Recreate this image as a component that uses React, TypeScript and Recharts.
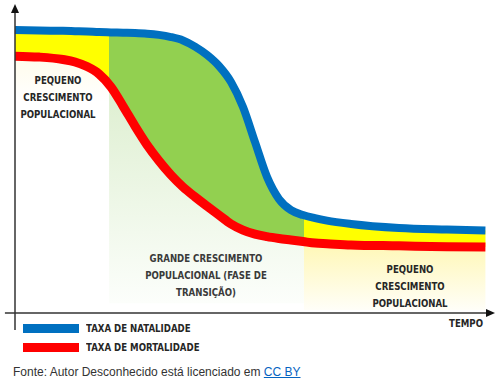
import { ComposedChart, Area, Line, XAxis, YAxis, ReferenceArea, ReferenceLine, Legend } from "recharts";

// tempo (0–100) e taxas (0–100)
const TEMPO = [0, 5, 10, 12.5, 15, 17.5, 20, 22.5, 25, 27.5, 30, 32.5, 35, 37.5, 40, 42.5, 45, 47.5, 50, 52.5, 55, 57.5, 60, 62.5, 65, 70, 80, 90, 98];
const NATALIDADE = [91.9, 91.7, 91.6, 91.5, 91.4, 91.2, 91.1, 91.0, 90.9, 90.7, 90.3, 89.6, 88.5, 86.5, 83.8, 80.2, 75.0, 66.9, 55.5, 44.2, 37.0, 33.4, 31.8, 30.8, 30.0, 28.9, 27.6, 27.1, 26.8];
const MORTALIDADE = [83.4, 83.1, 82.3, 81.5, 80.0, 77.6, 73.4, 67.2, 60.7, 54.6, 49.4, 44.8, 40.9, 37.7, 34.7, 31.8, 28.9, 26.9, 25.6, 24.8, 24.2, 23.7, 23.2, 22.7, 22.5, 22.1, 21.8, 21.5, 21.4];

// limites das fases (tempo)
const FASES = [0, 19.6, 60.2, 98];

const BLUE = "#0070C0";
const RED = "#FF0000";
const YELLOW = "#FFFF00";
const GREEN = "#92D050";
const NARROW = "'DejaVu Sans Condensed', 'Liberation Sans Narrow', sans-serif";
const SQUEEZE = 0.87;

const data = TEMPO.map((t, i) => ({
  t,
  natalidade: NATALIDADE[i],
  mortalidade: MORTALIDADE[i],
  faixa: [MORTALIDADE[i], NATALIDADE[i]],
  ceu: [NATALIDADE[i], 100],
}));

const ANOTACOES = [
  { x: 58, y: 84, lines: ["PEQUENO", "CRESCIMENTO", "POPULACIONAL"], fill: "#262626" },
  { x: 206, y: 262, lines: ["GRANDE CRESCIMENTO", "POPULACIONAL (FASE DE", "TRANSIÇÃO)"], fill: "#3a3a3a" },
  { x: 410, y: 273, lines: ["PEQUENO", "CRESCIMENTO", "POPULACIONAL"], fill: "#262626" },
  { x: 466, y: 327, lines: ["TEMPO"], fill: "#262626" },
];

const ORDEM = ["natalidade", "mortalidade"];

const Arrow = (props: any) => {
  const { x1, y1, x2, y2 } = props;
  const a = Math.atan2(y2 - y1, x2 - x1);
  const len = 9;
  const w = 4;
  const bx = x2 - len * Math.cos(a);
  const by = y2 - len * Math.sin(a);
  const px = -Math.sin(a) * w;
  const py = Math.cos(a) * w;
  return (
    <g>
      <line x1={x1} y1={y1} x2={bx} y2={by} stroke="#333" strokeWidth={1.5} />
      <polygon points={`${x2},${y2} ${bx + px},${by + py} ${bx - px},${by - py}`} fill="#111" />
    </g>
  );
};

const LegendContent = ({ payload }: any) => (
  <div style={{ display: "flex", flexDirection: "column", gap: 10 }}>
    {(payload || [])
      .filter((p: any) => ORDEM.includes(p.dataKey))
      .sort((a: any, b: any) => ORDEM.indexOf(a.dataKey) - ORDEM.indexOf(b.dataKey))
      .map((p: any) => (
        <div key={p.value} style={{ display: "flex", alignItems: "center", height: 9, whiteSpace: "nowrap" }}>
          <span style={{ display: "inline-block", width: 56, height: 9, background: p.color, marginRight: 7 }} />
          <span
            style={{
              display: "inline-block",
              fontFamily: NARROW,
              fontWeight: 700,
              fontSize: 11,
              color: "#262626",
              lineHeight: "9px",
              transform: `scaleX(${SQUEEZE})`,
              transformOrigin: "left center",
            }}
          >
            {p.value}
          </span>
        </div>
      ))}
  </div>
);

export default function App() {
  const last = TEMPO[TEMPO.length - 1];
  return (
    <div style={{ position: "absolute", left: 0, top: 0, width: 504, height: 383, background: "#fff" }}>
      <ComposedChart width={504} height={383} data={data} margin={{ top: 5, right: 9, left: 15, bottom: 70 }}>
        <defs>
          <linearGradient id="faixaGrad" x1="0" y1="0" x2="1" y2="0">
            <stop offset={0} stopColor={YELLOW} />
            <stop offset={FASES[1] / last} stopColor={YELLOW} />
            <stop offset={FASES[1] / last} stopColor={GREEN} />
            <stop offset={FASES[2] / last} stopColor={GREEN} />
            <stop offset={FASES[2] / last} stopColor={YELLOW} />
            <stop offset={1} stopColor={YELLOW} />
          </linearGradient>
          <linearGradient id="fundo1" x1="0" y1="0" x2="0" y2="1">
            <stop offset="0%" stopColor="#fffbe4" />
            <stop offset="40%" stopColor="#ffffff" />
          </linearGradient>
          <linearGradient id="fundo2" x1="0" y1="0" x2="0" y2="1">
            <stop offset="0%" stopColor="#d2e9c0" />
            <stop offset="100%" stopColor="#fcfefb" />
          </linearGradient>
          <linearGradient id="fundo3" x1="0" y1="0" x2="0" y2="1">
            <stop offset="0%" stopColor="#fff6a8" />
            <stop offset="100%" stopColor="#fffef8" />
          </linearGradient>
        </defs>
        <XAxis type="number" dataKey="t" domain={[0, 100]} hide />
        <YAxis type="number" domain={[0, 100]} hide />
        <ReferenceArea x1={FASES[0]} x2={FASES[1]} y1={40} y2={88} fill="url(#fundo1)" fillOpacity={1} stroke="none" />
        <ReferenceArea x1={FASES[1]} x2={FASES[2]} y1={3.2} y2={100} fill="url(#fundo2)" fillOpacity={1} stroke="none" />
        <ReferenceArea x1={FASES[2]} x2={last} y1={1} y2={27} fill="url(#fundo3)" fillOpacity={1} stroke="none" />
        <Area type="monotone" dataKey="ceu" fill="#ffffff" fillOpacity={1} stroke="none" legendType="none" isAnimationActive={false} />
        <Area type="monotone" dataKey="faixa" fill="url(#faixaGrad)" fillOpacity={1} stroke="none" legendType="none" isAnimationActive={false} />
        <Line type="monotone" dataKey="natalidade" name="TAXA DE NATALIDADE" stroke={BLUE} strokeWidth={8} dot={false} isAnimationActive={false} />
        <Line type="monotone" dataKey="mortalidade" name="TAXA DE MORTALIDADE" stroke={RED} strokeWidth={9} dot={false} isAnimationActive={false} />
        <ReferenceLine segment={[{ x: -2.1, y: 0 }, { x: 100, y: 0 }]} ifOverflow="visible" shape={Arrow} />
        <ReferenceLine segment={[{ x: 0, y: -5.5 }, { x: 0, y: 100.3 }]} ifOverflow="visible" shape={Arrow} />
        <Legend
          layout="horizontal"
          verticalAlign="middle"
          align="center"
          content={<LegendContent />}
          wrapperStyle={{ left: 23, top: 324, width: "auto" }}
        />
      </ComposedChart>
      <svg width={504} height={383} style={{ position: "absolute", left: 0, top: 0, pointerEvents: "none" }}>
        <g fontFamily={NARROW} fontWeight={700} fontSize={11} textAnchor="middle">
          {ANOTACOES.map((a, i) => (
            <text key={i} transform={`translate(${a.x},${a.y}) scale(${SQUEEZE},1)`} fill={a.fill}>
              {a.lines.map((l, j) => (
                <tspan key={j} x={0} y={j * 17}>{l}</tspan>
              ))}
            </text>
          ))}
        </g>
      </svg>
      <div style={{ position: "absolute", left: 13, top: 365, fontFamily: "'Liberation Sans', Arial, sans-serif", fontSize: 12, color: "#333" }}>
        Fonte: Autor Desconhecido está licenciado em{" "}
        <span style={{ color: "#0563C1", textDecoration: "underline" }}>CC BY</span>
      </div>
    </div>
  );
}
